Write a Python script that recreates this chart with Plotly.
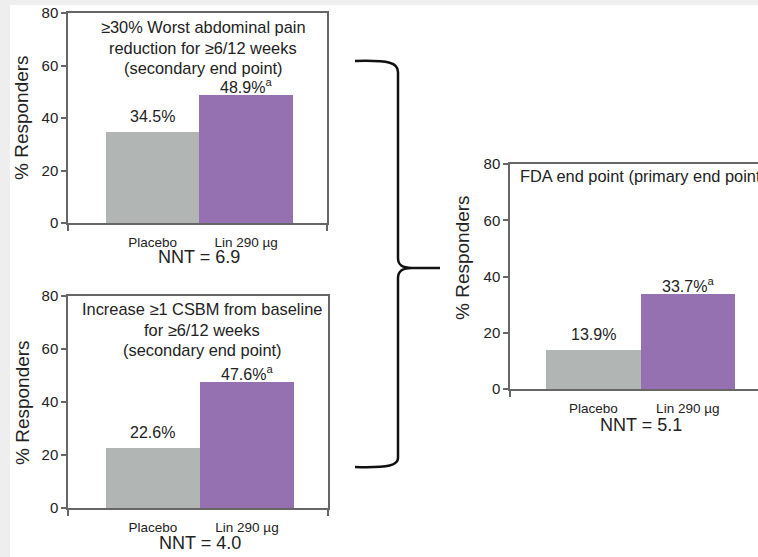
import plotly.graph_objects as go

W, H = 758, 557

# ---------------- data ----------------
categories = ["Placebo", "Lin 290 µg"]
panel_titles = [
    ["≥30% Worst abdominal pain", "reduction for ≥6/12 weeks", "(secondary end point)"],
    ["Increase ≥1 CSBM from baseline", "for ≥6/12 weeks", "(secondary end point)"],
    ["FDA end point (primary end point)"],
]
placebo_pct = [34.5, 22.6, 13.9]
lin_pct = [48.9, 47.6, 33.7]
nnt_values = [6.9, 4.0, 5.1]
y_ticks = [0, 20, 40, 60, 80]
y_label = "% Responders"

# ---------------- style / layout ----------------
FONT = "Arial, Liberation Sans, sans-serif"
TXT = "#222222"
AX = "#666666"
GRAY = "#b1b5b4"
PURPLE = "#9571b2"
LINE_STEP = 20.5


def PX(x):
    return x / W


def PY(y):
    return 1 - y / H


panels = [
    dict(x0=68, x1=327, y0=13, y1=223, xr=[-0.906, 1.864], right=True,
         tx=203, ty=27, talign="center", ytx=22, yty=118, nnty=257),
    dict(x0=68, x1=328, y0=296, y1=508, xr=[-0.904, 1.862], right=True,
         tx=202, ty=309, talign="center", ytx=22, yty=403, nnty=543),
    dict(x0=510, x1=758, y0=164, y1=389, xr=[-0.881, 1.743], right=False,
         tx=518, ty=176, talign="left", ytx=462, yty=258, nnty=425),
]

fig = go.Figure()
annotations = []
shapes = []

# white page with light grey margin band (left / top)
shapes.append(dict(type="rect", xref="paper", yref="paper",
                   x0=PX(10), x1=1.0, y0=0, y1=PY(5),
                   fillcolor="white", line=dict(width=0), layer="below"))

for i, p in enumerate(panels):
    k = "" if i == 0 else str(i + 1)
    xa, ya = "x" + k, "y" + k
    vals = [placebo_pct[i], lin_pct[i]]
    fig.add_trace(go.Bar(
        x=[0, 1], y=vals, width=[1, 1],
        marker=dict(color=[GRAY, PURPLE], line=dict(width=0)),
        xaxis=xa, yaxis=ya, showlegend=False, hoverinfo="skip",
    ))
    fig.layout["xaxis" + k] = dict(
        domain=[PX(p["x0"]), PX(p["x1"])], range=p["xr"], anchor=ya,
        tickmode="array", tickvals=[0, 1], ticktext=categories,
        ticks="", showgrid=False, zeroline=False, automargin=False,
        showline=True, linecolor=AX, linewidth=1.5, mirror=True,
        tickfont=dict(family=FONT, size=13.5, color=TXT),
        ticklabelstandoff=6,
        minor=dict(tickmode="array",
                   tickvals=[p["xr"][0]] + ([p["xr"][1]] if p["right"] else []),
                   ticks="outside", ticklen=6, tickcolor=AX, tickwidth=1.5),
        fixedrange=True,
    )
    fig.layout["yaxis" + k] = dict(
        domain=[PY(p["y1"]), PY(p["y0"])], range=[0, 80], anchor=xa,
        tickmode="array", tickvals=y_ticks, automargin=False,
        ticks="outside", ticklen=5, tickcolor=AX, tickwidth=1.5,
        showgrid=False, zeroline=False,
        showline=True, linecolor=AX, linewidth=1.5, mirror=p["right"],
        tickfont=dict(family=FONT, size=15, color=TXT),
        fixedrange=True,
    )
    # value labels
    for j, v in enumerate(vals):
        label = f"{v:.1f}%" + ("<sup>a</sup>" if j == 1 else "")
        annotations.append(dict(
            x=j, y=v, xref=xa, yref=ya, text=label, showarrow=False,
            yanchor="bottom", xanchor="center", yshift=5 if j == 0 else -3,
            font=dict(family=FONT, size=16, color=TXT)))
    # panel title, one annotation per line
    for n, line in enumerate(panel_titles[i]):
        annotations.append(dict(
            x=PX(p["tx"]), y=PY(p["ty"] + n * LINE_STEP), xref="paper", yref="paper",
            text=line, showarrow=False,
            xanchor="center" if p["talign"] == "center" else "left",
            yanchor="middle",
            font=dict(family=FONT, size=16.4, color=TXT)))
    # y title
    annotations.append(dict(
        x=PX(p["ytx"]), y=PY(p["yty"]), xref="paper", yref="paper",
        text=y_label, textangle=-90, showarrow=False,
        xanchor="center", yanchor="middle",
        font=dict(family=FONT, size=19, color=TXT)))
    # NNT
    annotations.append(dict(
        x=0.5, y=PY(p["nnty"]), xref=xa, yref="paper",
        text=f"NNT = {nnt_values[i]:.1f}", showarrow=False,
        xanchor="center", yanchor="middle",
        font=dict(family=FONT, size=18, color=TXT)))

# curly brace linking the two secondary panels to the primary panel
def pt(x, y):
    return f"{PX(x):.5f},{PY(y):.5f}"

brace = (
    f"M {pt(355, 61)} C {pt(390, 60)} {pt(398, 63)} {pt(398, 72)} "
    f"L {pt(398, 258)} C {pt(398, 265)} {pt(402, 268)} {pt(412, 268)} "
    f"L {pt(440, 268)} "
    f"M {pt(412, 268)} C {pt(402, 268)} {pt(398, 271)} {pt(398, 278)} "
    f"L {pt(398, 458)} C {pt(398, 465)} {pt(390, 468)} {pt(355, 467)}"
)
shapes.append(dict(type="path", xref="paper", yref="paper", path=brace,
                   line=dict(color="#111111", width=2.5)))

fig.update_layout(
    width=W, height=H,
    margin=dict(l=0, r=0, t=0, b=0, autoexpand=False),
    paper_bgcolor="#eeeeee", plot_bgcolor="white",
    bargap=0, showlegend=False,
    annotations=annotations, shapes=shapes,
    font=dict(family=FONT, color=TXT),
)

fig.write_html(
    "out.html",
    config={"displayModeBar": False},
    post_script="document.body.style.margin='0';document.body.style.overflow='hidden';",
)
